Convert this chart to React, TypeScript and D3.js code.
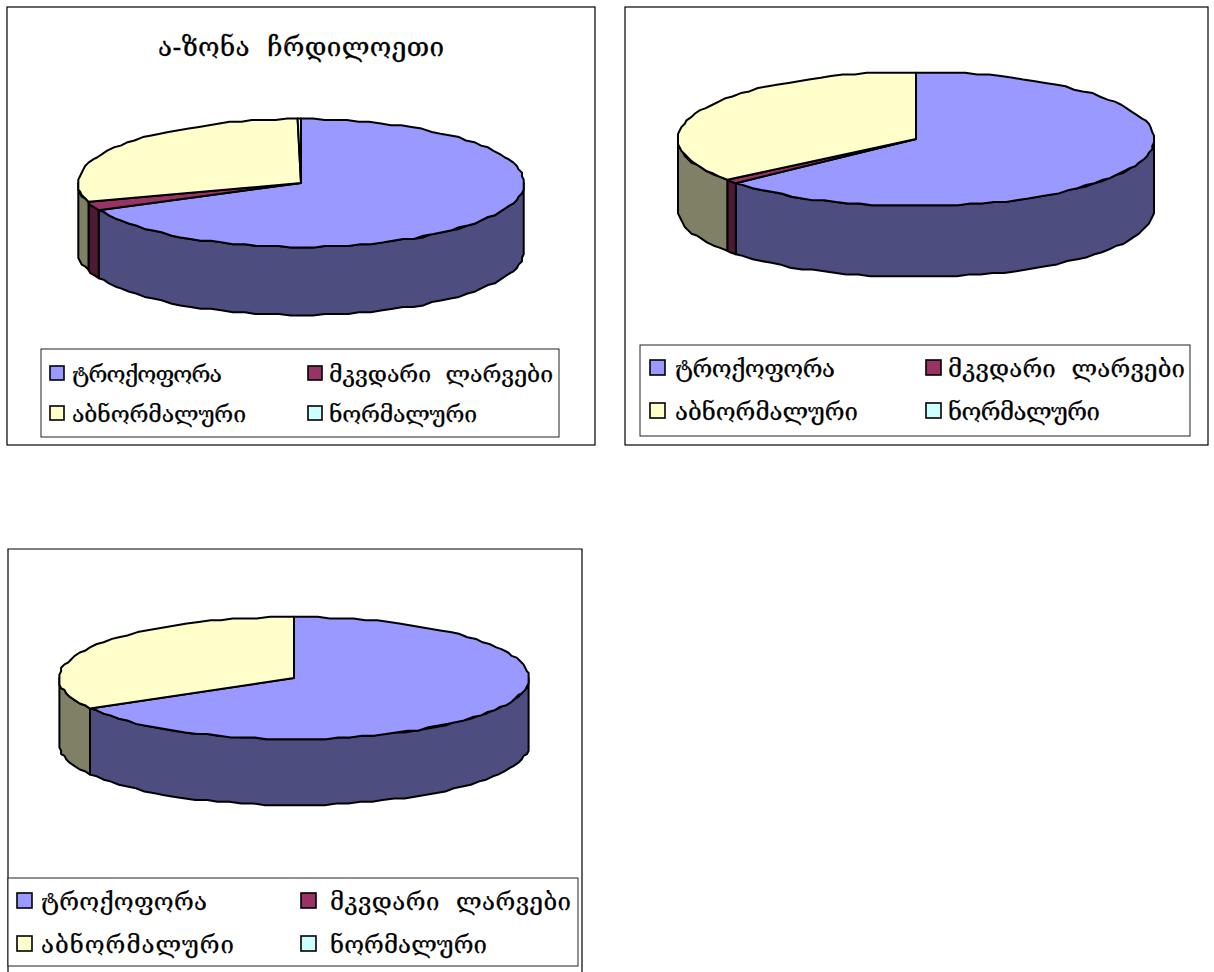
import React from "react";
import * as d3 from "d3";

const categories = ["ტროქოფორა", "მკვდარი  ლარვები", "აბნორმალური", "ნორმალური"];
const titleText = "ა-ზონა  ჩრდილოეთი";
const seriesA = [68.2, 2.0, 29.6, 0.2];
const seriesB = [63.75, 0.9, 35.35, 0];
const seriesC = [66.7, 0, 33.3, 0];
const topColors = ["#9999FF", "#993366", "#FFFFCC", "#CCFFFF"];
const sideColors = ["#4D4D80", "#4D1933", "#808066", "#668080"];

type Box = [number, number, number, number];
type Layout = {
  frame: Box; frameOpenBottom?: boolean;
  cx: number; cy: number; rx: number; ry: number; depth: number;
  legend: Box; swatch: number;
  col: [number, number]; row: [number, number];
  textX: [number, number]; textW: number[]; fs: number;
};

const charts: { values: number[]; title?: string; lay: Layout }[] = [
  {
    values: seriesA, title: titleText,
    lay: { frame: [7, 7, 595, 445], cx: 301, cy: 183, rx: 223, ry: 64, depth: 68,
      legend: [41, 349, 559, 437], swatch: 14, col: [50, 308], row: [366, 406],
      textX: [72, 329], textW: [150, 224, 174, 148], fs: 23 },
  },
  {
    values: seriesB,
    lay: { frame: [625, 7, 1208, 445], cx: 916, cy: 139, rx: 238, ry: 67, depth: 71,
      legend: [640, 345, 1190, 436], swatch: 15, col: [650, 926], row: [360, 403],
      textX: [675, 948], textW: [160, 237, 183, 152], fs: 24 },
  },
  {
    values: seriesC,
    lay: { frame: [8, 549, 582, 990], frameOpenBottom: true, cx: 294, cy: 678, rx: 235, ry: 61, depth: 66,
      legend: [8, 878, 578, 966], swatch: 15, col: [17, 301], row: [893, 936],
      textX: [41, 330], textW: [166, 241, 193, 157], fs: 24 },
  },
];

const FONT = "'DejaVu Serif', 'DejaVu Sans', serif";
const STEP = (Math.PI * 2) / 120;
const GRID = 1.7;
const snap = (v: number) => Math.round(v / GRID) * GRID;

function pt(l: Layout, a: number, dy = 0): [number, number] {
  return [l.cx + snap(l.rx * Math.sin(a)), l.cy + snap(-l.ry * Math.cos(a)) + dy];
}
function arcPts(l: Layout, a0: number, a1: number, dy = 0): [number, number][] {
  const pts: [number, number][] = [];
  const n = Math.max(1, Math.ceil((a1 - a0) / STEP));
  for (let i = 0; i <= n; i++) pts.push(pt(l, a0 + ((a1 - a0) * i) / n, dy));
  return pts;
}
const lineGen = d3.line<[number, number]>().x((d) => d[0]).y((d) => d[1]);

function PieChart({ values, title, lay: l }: { values: number[]; title?: string; lay: Layout }) {
  const arcs = d3.pie<number>().sort(null).value((d) => d)(values);
  const R = Math.PI / 2;
  return (
    <g>
      {l.frameOpenBottom ? (
        <path d={`M${l.frame[0]},${l.frame[3]}V${l.frame[1]}H${l.frame[2]}V${l.frame[3]}`} fill="#fff" stroke="#000" strokeWidth={1.2} />
      ) : (
        <rect x={l.frame[0]} y={l.frame[1]} width={l.frame[2] - l.frame[0]} height={l.frame[3] - l.frame[1]} fill="#fff" stroke="#000" strokeWidth={1.2} />
      )}
      {title && (
        <text x={158} y={56} fontFamily={FONT} fontSize={26} stroke="#000" strokeWidth={0.3} textLength={286} lengthAdjust="spacing" xmlSpace="preserve" fill="#000">{title}</text>
      )}
      {arcs.map((s, i) => {
        const a0 = Math.max(s.startAngle, R);
        const a1 = Math.min(s.endAngle, 3 * R);
        if (a1 <= a0 || s.value === 0) return null;
        const bottom = arcPts(l, a0, a1, l.depth);
        const top = arcPts(l, a0, a1).reverse();
        return <path key={"s" + i} d={(lineGen([...bottom, ...top]) ?? "") + "Z"} fill={sideColors[i]} stroke="#000" strokeWidth={2} strokeLinejoin="round" />;
      })}
      {arcs.map((s, i) => {
        if (s.value === 0) return null;
        const pts: [number, number][] = [[l.cx, l.cy], ...arcPts(l, s.startAngle, s.endAngle)];
        return <path key={"t" + i} d={(lineGen(pts) ?? "") + "Z"} fill={topColors[i]} stroke="#000" strokeWidth={2} strokeLinejoin="round" />;
      })}
      <rect x={l.legend[0]} y={l.legend[1]} width={l.legend[2] - l.legend[0]} height={l.legend[3] - l.legend[1]} fill="#fff" stroke="#222" strokeWidth={1} />
      {categories.map((c, i) => {
        const cIdx = i % 2;
        const rIdx = Math.floor(i / 2);
        return (
          <g key={c}>
            <rect x={l.col[cIdx]} y={l.row[rIdx]} width={l.swatch} height={l.swatch} fill={topColors[i]} stroke="#000" strokeWidth={1.6} />
            <text x={l.textX[cIdx]} y={l.row[rIdx] + l.swatch + 2} fontFamily={FONT} fontSize={l.fs} stroke="#000" strokeWidth={0.25} textLength={l.textW[i]} lengthAdjust="spacing" xmlSpace="preserve" fill="#000">{c}</text>
          </g>
        );
      })}
    </g>
  );
}

export default function App() {
  return (
    <svg width={1214} height={972} style={{ position: "absolute", left: 0, top: 0, background: "#fff" }}>
      {charts.map((c, i) => (
        <PieChart key={i} values={c.values} title={c.title} lay={c.lay} />
      ))}
    </svg>
  );
}
